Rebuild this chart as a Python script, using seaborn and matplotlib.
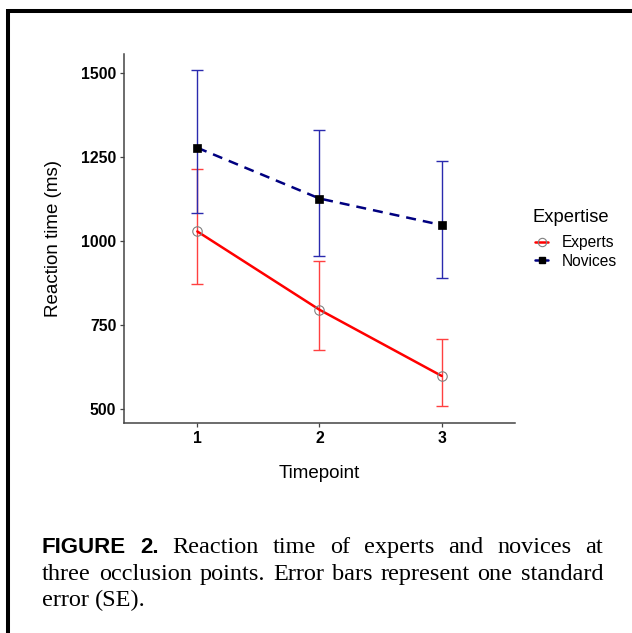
import matplotlib
matplotlib.use("Agg")
import matplotlib.pyplot as plt
import seaborn as sns
import pandas as pd
from matplotlib.lines import Line2D

# ---------------- data ----------------
timepoints = [1, 2, 3]
groups = ["Experts", "Novices"]
experts_mean = [1029, 796, 599]
experts_low = [873, 677, 510]
experts_high = [1216, 942, 710]
novices_mean = [1278, 1127, 1048]
novices_low = [1083, 956, 889]
novices_high = [1508, 1331, 1238]
y_ticks = [500, 750, 1000, 1250, 1500]
x_ticks = [1, 2, 3]

caption_lines = [
    (["FIGURE", "2."], ["Reaction", "time", "of", "experts", "and", "novices", "at"], True),
    ([], ["three", "occlusion", "points.", "Error", "bars", "represent", "one", "standard"], True),
    ([], ["error", "(SE)."], False),
]

# ---------------- style ----------------
sns.set_theme(style="ticks")
plt.rcParams['font.family'] = ['Liberation Sans', 'DejaVu Sans']

W, H = 632, 633
fig = plt.figure(figsize=(W / 100, H / 100), dpi=100)
fig.patch.set_facecolor("white")
ax = fig.add_axes([124 / W, 1 - 423 / H, (515 - 124) / W, (423 - 54) / H])
ax.set_facecolor("white")

df = pd.DataFrame({
    "Timepoint": timepoints * 2,
    "RT": experts_mean + novices_mean,
    "Expertise": ["Experts"] * 3 + ["Novices"] * 3,
})

line_colors = {"Experts": "#FF0000", "Novices": "#000080"}
err_colors = {"Experts": "#FF4040", "Novices": "#2A2AAE"}

sns.lineplot(data=df, x="Timepoint", y="RT", hue="Expertise", style="Expertise",
             hue_order=groups, style_order=groups,
             palette=line_colors,
             dashes={"Experts": "", "Novices": (4, 2.8)},
             markers={"Experts": "o", "Novices": "s"},
             linewidth=1.8, legend=False, ax=ax, zorder=3)

main_lines = list(ax.lines)
for ln in main_lines:
    if ln.get_marker() == "o":
        ln.set_markersize(6.8)
        ln.set_markerfacecolor("none")
        ln.set_markeredgecolor("#808080")
        ln.set_markeredgewidth(0.8)
    else:
        ln.set_markersize(5.2)
        ln.set_markerfacecolor("black")
        ln.set_markeredgecolor("black")
        ln.set_markeredgewidth(0.5)

# error bars
for g, mean, low, high in [("Experts", experts_mean, experts_low, experts_high),
                           ("Novices", novices_mean, novices_low, novices_high)]:
    yerr = [[m - l for m, l in zip(mean, low)], [h - m for m, h in zip(mean, high)]]
    ax.errorbar(timepoints, mean, yerr=yerr, fmt="none", ecolor=err_colors[g],
                elinewidth=1.0, capsize=4.3, capthick=1.0, zorder=2)

ax.set_xlim(0.4, 3.6)
ax.set_ylim(459, 1557)
ax.set_xticks(x_ticks)
ax.set_xticklabels([str(t) for t in x_ticks])
ax.set_yticks(y_ticks)
ax.set_yticklabels([str(t) for t in y_ticks])

for side in ["top", "right"]:
    ax.spines[side].set_visible(False)
for side in ["left", "bottom"]:
    ax.spines[side].set_color("#444444")
    ax.spines[side].set_linewidth(1.1)

ax.tick_params(axis="both", length=3, width=0.9, color="#444444", labelcolor="black",
               labelsize=11.3)
ax.tick_params(axis="y", pad=2.5)
ax.tick_params(axis="x", pad=3)
for lab in ax.get_xticklabels() + ax.get_yticklabels():
    lab.set_fontweight("bold")

ax.set_xlabel("Timepoint", fontsize=13.5, color="black")
ax.set_ylabel("Reaction time (ms)", fontsize=13.5, color="black")
ax_pos = ax.get_position()
xl_y = ((1 - 473 / H) - ax_pos.y0) / ax_pos.height
yl_x = ((53 / W) - ax_pos.x0) / ax_pos.width
ax.xaxis.set_label_coords(0.5, xl_y)
ax.xaxis.label.set_verticalalignment("center")
ax.yaxis.set_label_coords(yl_x, 0.5)
ax.yaxis.label.set_verticalalignment("center")

# legend
fig.text(533 / W, 1 - 217 / H, "Expertise", fontsize=13.2, color="black",
         ha="left", va="center")
handles = [
    Line2D([], [], color=line_colors["Experts"], lw=1.8, marker="o", markersize=6,
           markerfacecolor="none", markeredgecolor="#808080", markeredgewidth=0.8),
    Line2D([], [], color=line_colors["Novices"], lw=1.8, marker="s", markersize=5,
           markerfacecolor="black", markeredgecolor="black"),
]
leg = fig.legend(handles, groups, loc="center left",
                 bbox_to_anchor=(535 / W, 1 - 252 / H), frameon=False,
                 fontsize=11.2, handlelength=0.85,
                 handletextpad=0.85, labelspacing=0.2, borderpad=0,
                 borderaxespad=0)
for t in leg.get_texts():
    t.set_color("black")

# frame lines (top and left)
fig.add_artist(Line2D([8 / W, 1.0], [1 - 11 / H, 1 - 11 / H], transform=fig.transFigure,
                      color="black", lw=2.9, solid_capstyle="butt"))
fig.add_artist(Line2D([8 / W, 8 / W], [1 - 9 / H, 0.0], transform=fig.transFigure,
                      color="black", lw=2.9, solid_capstyle="butt"))

# caption (justified)
renderer = fig.canvas.get_renderer()
serif = dict(family=["Liberation Serif", "DejaVu Serif"], size=17.5)
sansb = dict(family=["Liberation Sans", "DejaVu Sans"], size=16, weight="bold")
left_px, right_px = 42, 603
baselines = [553, 580, 606]
for (bold_words, words, justify), base in zip(caption_lines, baselines):
    items = [(w, sansb) for w in bold_words] + [(w, serif) for w in words]
    texts = []
    widths = []
    for w, props in items:
        t = fig.text(0, 1 - base / H, w, va="baseline", ha="left", color="black",
                     fontsize=props["size"], family=props["family"],
                     weight=props.get("weight", "normal"))
        texts.append(t)
        widths.append(t.get_window_extent(renderer).width)
    if justify and len(items) > 1:
        gap = (right_px - left_px - sum(widths)) / (len(items) - 1)
    else:
        sp = fig.text(0, 0, "a a", fontsize=serif["size"], family=serif["family"])
        sp2 = fig.text(0, 0, "aa", fontsize=serif["size"], family=serif["family"])
        gap = sp.get_window_extent(renderer).width - sp2.get_window_extent(renderer).width
        sp.remove(); sp2.remove()
    x = left_px
    for t, wd in zip(texts, widths):
        t.set_x(x / W)
        x += wd + gap

fig.savefig("out.png", dpi=100, facecolor="white")
